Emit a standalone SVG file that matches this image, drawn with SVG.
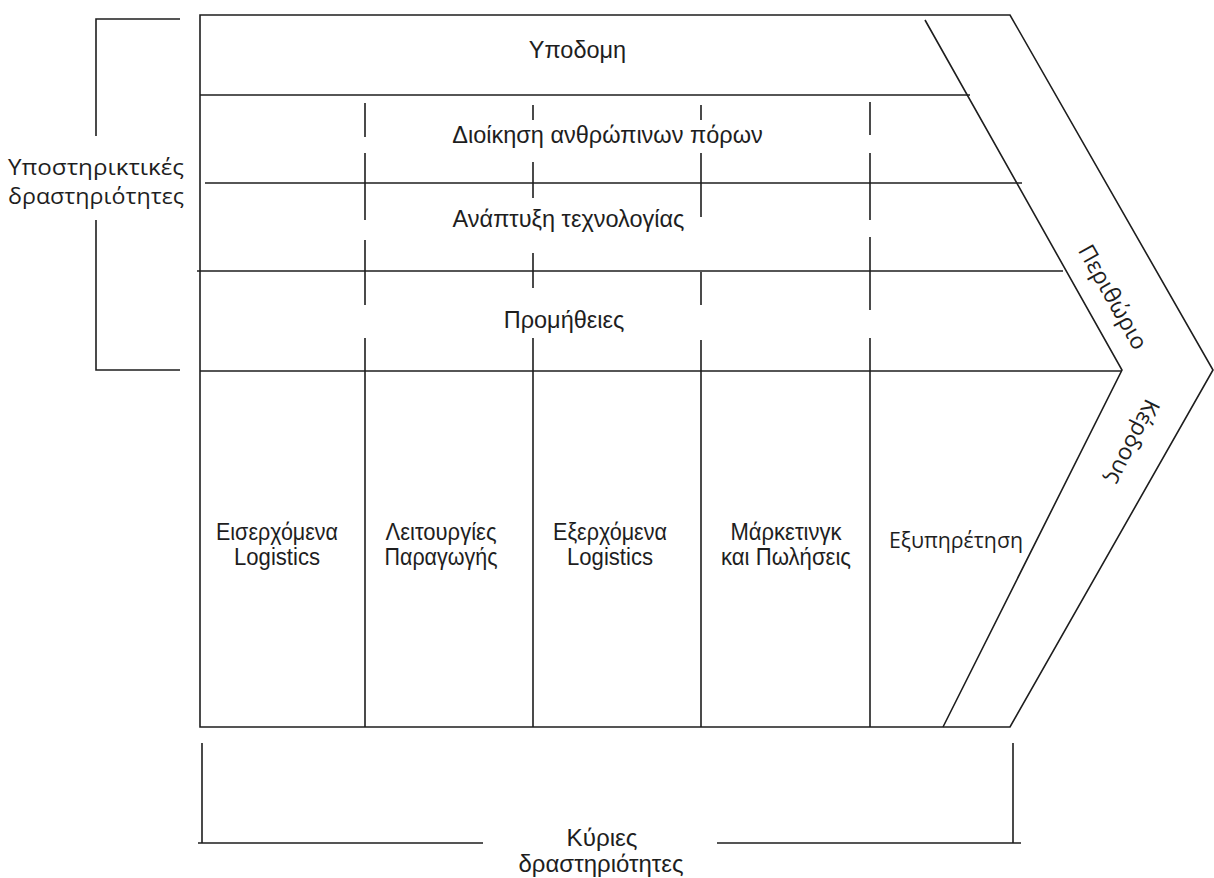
<svg xmlns="http://www.w3.org/2000/svg" width="1214" height="878" viewBox="0 0 1214 878">
<style>
.ln{stroke:#1e1e1e;stroke-width:1.6;fill:none}
.t{font-family:"Liberation Sans",Arial,sans-serif;font-size:23.5px;fill:#1e1e1e;text-anchor:middle}
.n{font-family:"Liberation Sans",Arial,sans-serif;font-size:23px;fill:#1e1e1e;text-anchor:middle}
.b{font-family:"Liberation Sans",Arial,sans-serif;font-size:24px;fill:#1e1e1e;text-anchor:middle}
.s{font-family:"Open Sans","Noto Sans",sans-serif;font-size:21.5px;fill:#1e1e1e;text-anchor:middle}
.r{font-family:"Open Sans","Noto Sans",sans-serif;font-size:23px;fill:#1e1e1e;text-anchor:middle}
</style>
<rect width="1214" height="878" fill="#ffffff"/>
<g id="frame">
<path class="ln" d="M1010,15 L200,15 L200,727 L1010,727 L1213,370 Z"/>
<path class="ln" d="M925,20 L1122,370 L943,727"/>
</g>
<g id="connectors">
<line class="ln" x1="200" y1="95" x2="970" y2="95"/>
<line class="ln" x1="205" y1="183" x2="1022" y2="183"/>
<line class="ln" x1="197" y1="271" x2="1063" y2="271"/>
<line class="ln" x1="200" y1="371" x2="1122" y2="371"/>
<path class="ln" d="M365,103V137M365,153V220M365,240V305M365,338V727"/>
<path class="ln" d="M533,105V120M533,162V198M533,253V288M533,338V727"/>
<path class="ln" d="M701,105V120M701,153V217M701,272V305M701,340V727"/>
<path class="ln" d="M870,102V135M870,153V220M870,237V310M870,338V727"/>
<path class="ln" d="M180,19H96V136M96,220V370H180"/>
<path class="ln" d="M202,743V843M198,843H483M717,843H1021M1013,743V843"/>
</g>
<g id="support-label"><text class="s" x="96" y="175" textLength="176" lengthAdjust="spacingAndGlyphs">Υποστηρικτικές</text><text class="s" x="96" y="204" textLength="176" lengthAdjust="spacingAndGlyphs">δραστηριότητες</text></g>
<g id="infrastructure"><text class="t" x="577.5" y="58">Υποδομη</text></g>
<g id="hr"><text class="t" x="607.5" y="143">Διοίκηση ανθρώπινων πόρων</text></g>
<g id="tech"><text class="t" x="568.5" y="227">Ανάπτυξη τεχνολογίας</text></g>
<g id="procurement"><text class="t" x="564" y="328">Προμήθειες</text></g>
<g id="inbound"><text class="n" x="277" y="540" textLength="122" lengthAdjust="spacingAndGlyphs">Εισερχόμενα</text><text class="n" x="277" y="565" textLength="86" lengthAdjust="spacingAndGlyphs">Logistics</text></g>
<g id="operations"><text class="n" x="441" y="540" textLength="111" lengthAdjust="spacingAndGlyphs">Λειτουργίες</text><text class="n" x="441" y="565" textLength="113" lengthAdjust="spacingAndGlyphs">Παραγωγής</text></g>
<g id="outbound"><text class="n" x="610" y="540" textLength="114" lengthAdjust="spacingAndGlyphs">Εξερχόμενα</text><text class="n" x="610" y="565" textLength="86" lengthAdjust="spacingAndGlyphs">Logistics</text></g>
<g id="marketing"><text class="n" x="786" y="540" textLength="111" lengthAdjust="spacingAndGlyphs">Μάρκετινγκ</text><text class="n" x="786" y="565" textLength="130" lengthAdjust="spacingAndGlyphs">και Πωλήσεις</text></g>
<g id="service"><text class="s" x="956" y="548" textLength="134" lengthAdjust="spacingAndGlyphs">Εξυπηρέτηση</text></g>
<g id="margin1"><text class="r" transform="translate(1113,297) rotate(60.6)" y="8">Περιθώριο</text></g>
<g id="margin2"><text class="r" transform="translate(1133,442) rotate(116.6)" y="8">Κέρδους</text></g>
<g id="primary-label"><text class="b" x="602" y="846" textLength="71" lengthAdjust="spacingAndGlyphs">Κύριες</text><text class="b" x="601" y="872" textLength="165" lengthAdjust="spacingAndGlyphs">δραστηριότητες</text></g>
</svg>
